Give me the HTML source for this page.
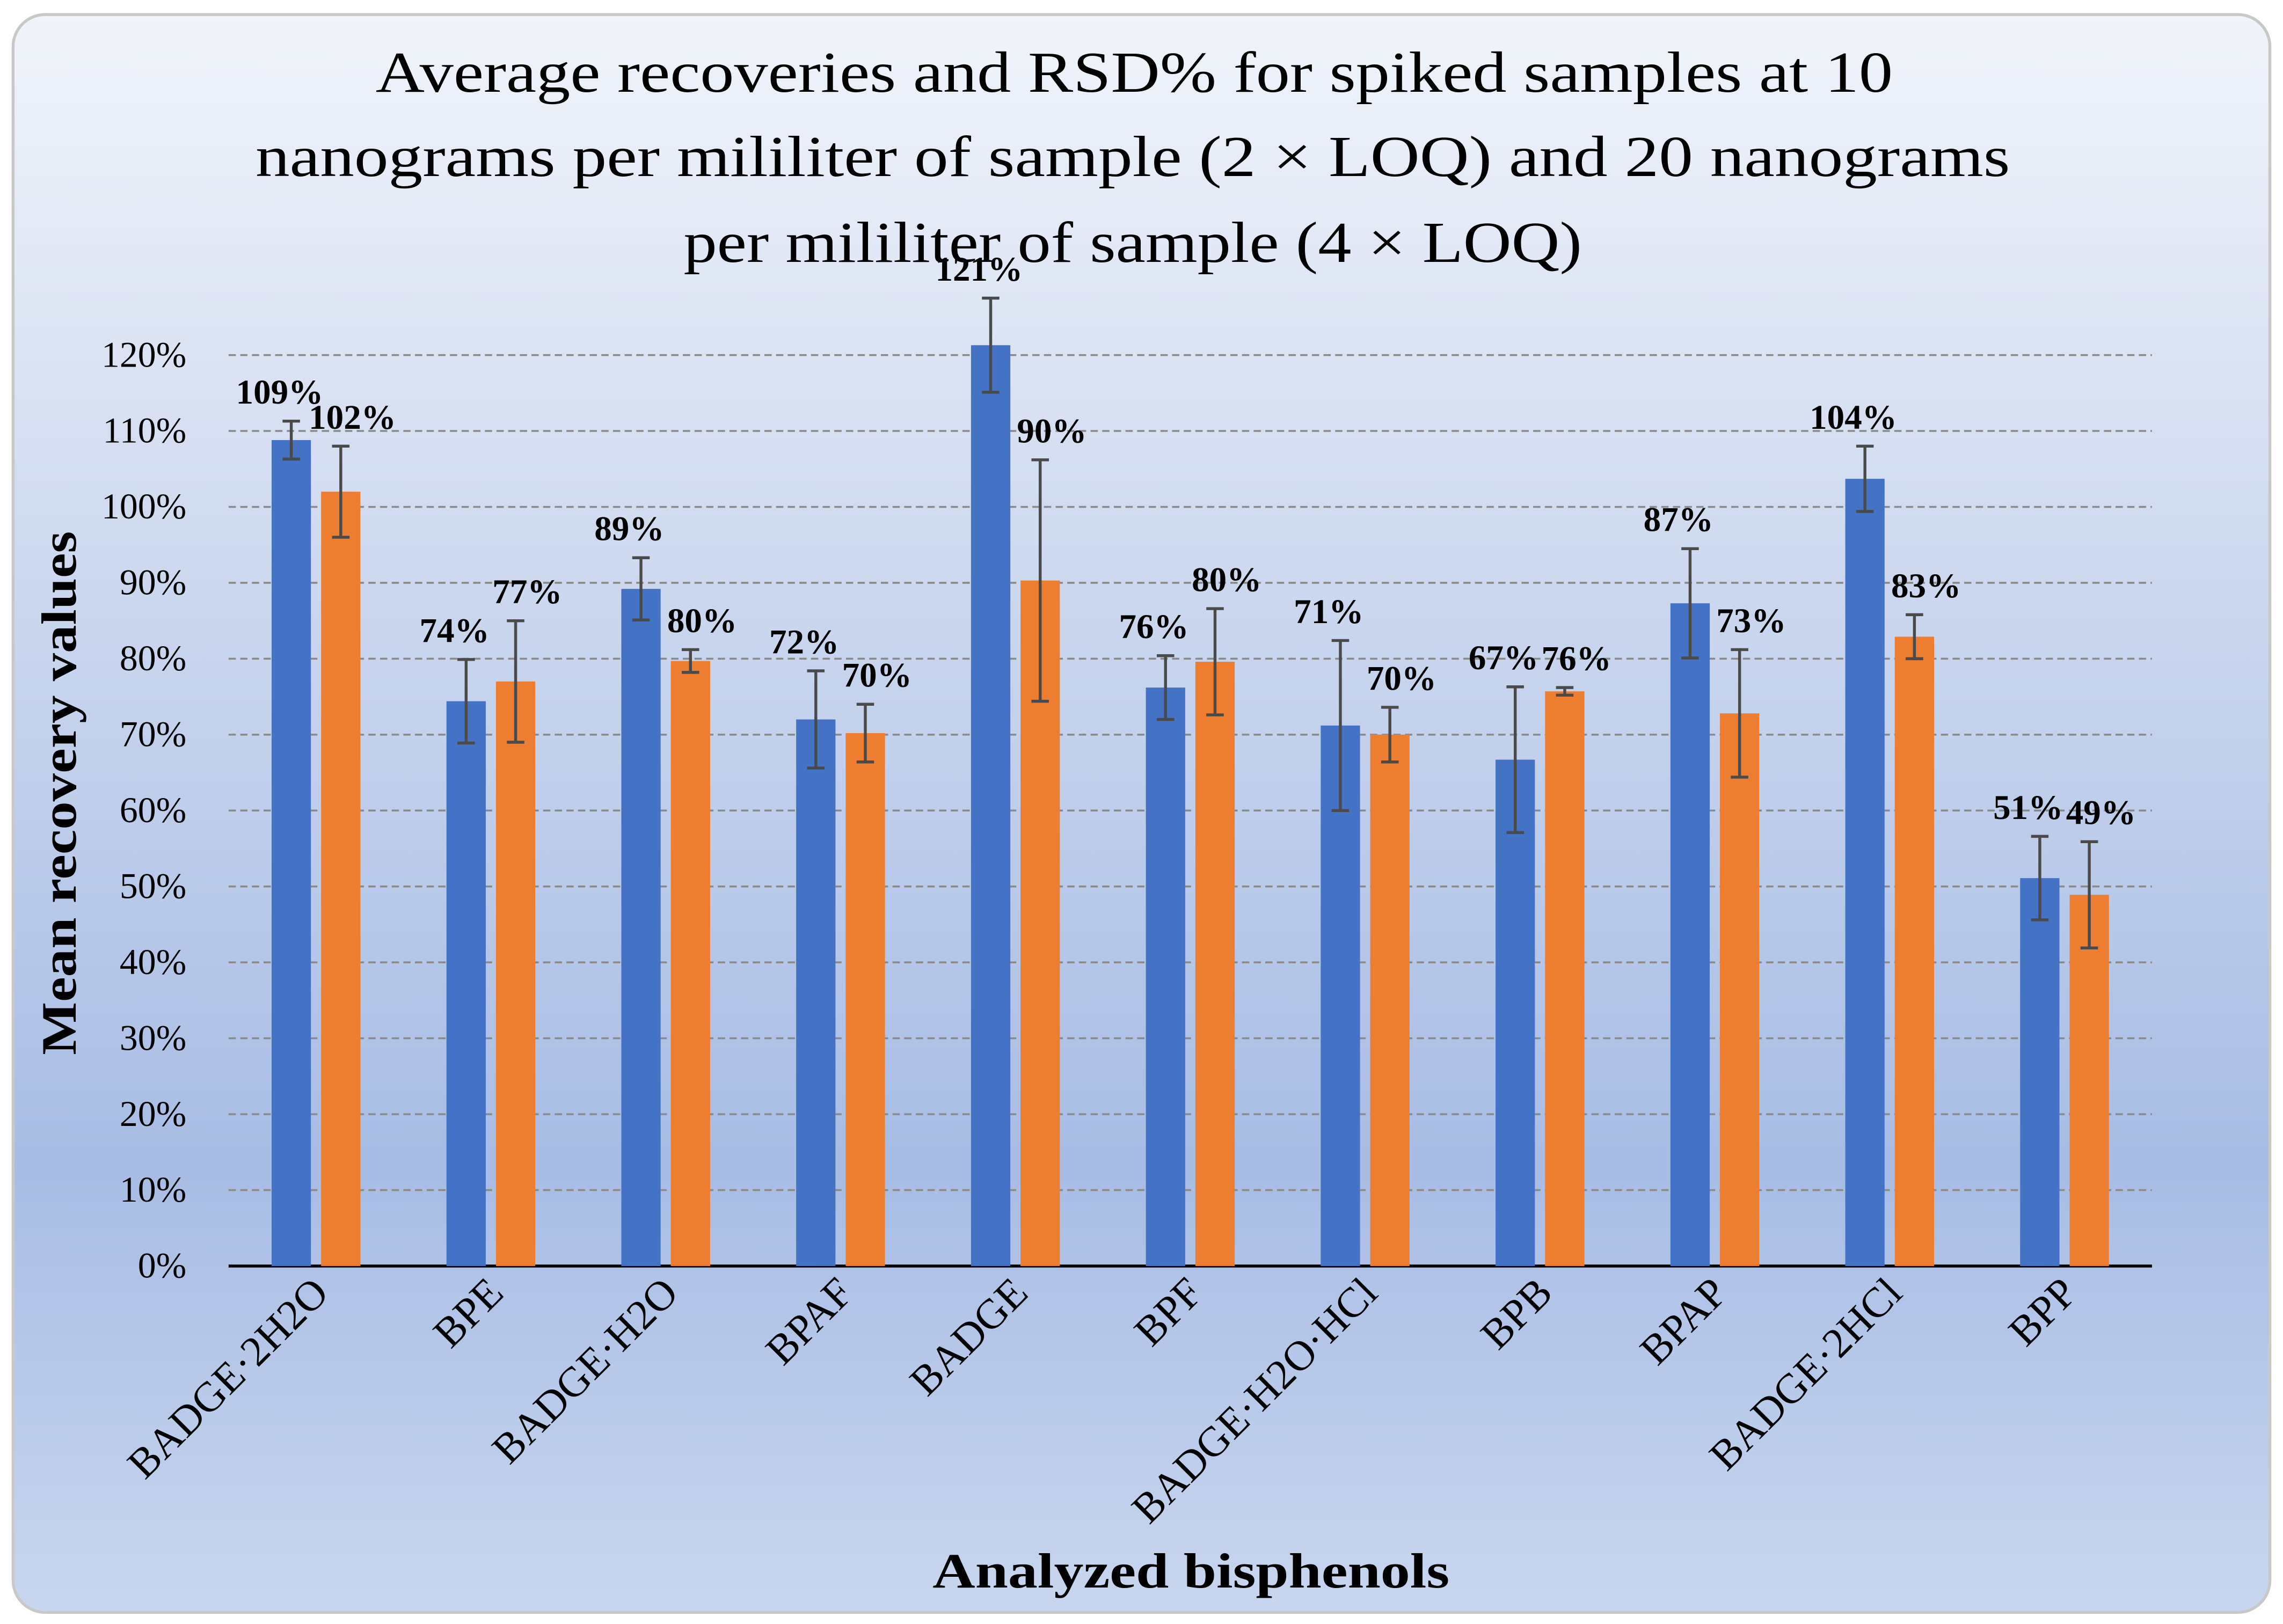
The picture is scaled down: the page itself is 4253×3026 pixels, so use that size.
<!DOCTYPE html>
<html><head><meta charset="utf-8"><style>
html,body{margin:0;padding:0;width:4253px;height:3026px;overflow:hidden;background:#fff}
svg{display:block}
text{font-family:"Liberation Serif",serif;fill:#000}
</style></head><body>
<svg id="chart" width="4253" height="3026" viewBox="0 0 1568 1116" preserveAspectRatio="none" xmlns="http://www.w3.org/2000/svg">
<defs><linearGradient id="bg" x1="0" y1="0" x2="0" y2="1">
<stop offset="0" stop-color="#f1f4fa"/><stop offset="0.72" stop-color="#a8bce4"/><stop offset="1" stop-color="#c9d6ef"/></linearGradient></defs>
<rect x="9" y="10" width="1550" height="1098" rx="22" fill="url(#bg)" stroke="#c8c8c8" stroke-width="2"/>
<g font-size="40" text-anchor="middle">
<text x="779" y="63" textLength="1042" lengthAdjust="spacingAndGlyphs">Average recoveries and RSD% for spiked samples at 10</text>
<text x="778" y="121" textLength="1205" lengthAdjust="spacingAndGlyphs">nanograms per mililiter of sample (2 × LOQ) and 20 nanograms</text>
<text x="778" y="180" textLength="617" lengthAdjust="spacingAndGlyphs">per mililiter of sample (4 × LOQ)</text>
</g>
<text font-size="34" font-weight="bold" text-anchor="middle" transform="translate(52,545) rotate(-90)" textLength="360" lengthAdjust="spacingAndGlyphs">Mean recovery values</text>
<text font-size="34" font-weight="bold" text-anchor="middle" x="818" y="1091" textLength="355" lengthAdjust="spacingAndGlyphs">Analyzed bisphenols</text>
<g id="grid"></g><g id="bars"></g><g id="labels"></g>
</svg>
<script>
const categories=["BADGE·2H2O","BPE","BADGE·H2O","BPAF","BADGE","BPF","BADGE·H2O·HCl","BPB","BPAP","BADGE·2HCl","BPP"];
const blueValues=[108.8,74.4,89.2,72,121.3,76.2,71.2,66.7,87.3,103.7,51.1];
const orangeValues=[102,77,79.7,70.2,90.3,79.6,70,75.7,72.8,82.9,48.9];
const blueErr=[2.5,5.5,4.1,6.4,6.2,4.2,11.2,9.6,7.2,4.3,5.5];
const orangeErr=[6,8,1.5,3.8,15.9,7,3.6,0.5,8.4,2.9,7];
const yTicks=[0,10,20,30,40,50,60,70,80,90,100,110,120];
const NS="http://www.w3.org/2000/svg";
const x0=157,x1=1478,y0=870,yTop=244;
const y=v=>y0-(v/120)*(y0-yTop);
const bw=(x1-x0)/categories.length;
const xc=i=>x0+bw*(i+0.5);
function mk(tag,attrs,parent,txt){const e=document.createElementNS(NS,tag);for(const k in attrs)e.setAttribute(k,attrs[k]);if(txt!==undefined)e.textContent=txt;parent.appendChild(e);return e;}
const grid=document.getElementById('grid'),bars=document.getElementById('bars'),labels=document.getElementById('labels');
yTicks.forEach(t=>{
  if(t>0){const l=mk('line',{x1:x0,x2:x1,y1:y(t),y2:y(t),stroke:'#8a8a8a','stroke-width':1.3,'stroke-dasharray':'5,3'},grid);
  
  }
  const tx=mk('text',{x:128,y:y(t)+8,'font-size':25,'text-anchor':'end'},grid,t+'%');
  
  
});
const ax=mk('line',{x1:x0,x2:x1,y1:y0,y2:y0,stroke:'#000','stroke-width':2},grid);


const W=27,G=7;
function series(vals,errs,color,off,name,lx){
  vals.forEach((v,i)=>{
    const cx=xc(i)+off;
    const r=mk('rect',{x:cx-W/2,y:y(v),width:W,height:y0-y(v),fill:color},bars);
    
    
    const g=mk('g',{stroke:'#4a4a4a','stroke-width':2},bars);
    
    
    const t=y(v+errs[i]),b=y(v-errs[i]);
    mk('line',{x1:cx,x2:cx,y1:t,y2:b},g);
    mk('line',{x1:cx-6,x2:cx+6,y1:t,y2:t},g);
    mk('line',{x1:cx-6,x2:cx+6,y1:b,y2:b},g);
    const lb=mk('text',{x:cx+lx,y:t-12,'font-size':24,'font-weight':'bold','text-anchor':'middle'},labels,Math.round(v)+'%');
    
    
  });
}
series(blueValues,blueErr,'#4472c4',-(W+G)/2,'blue',-8);
series(orangeValues,orangeErr,'#ed7d31',(W+G)/2,'orange',8);
categories.forEach((c,i)=>{
  const t=mk('text',{'font-size':29,'text-anchor':'end',transform:`translate(${xc(i)+10},${y0+20}) rotate(-45)`},labels,c);
  
  
});
</script>
</body></html>
